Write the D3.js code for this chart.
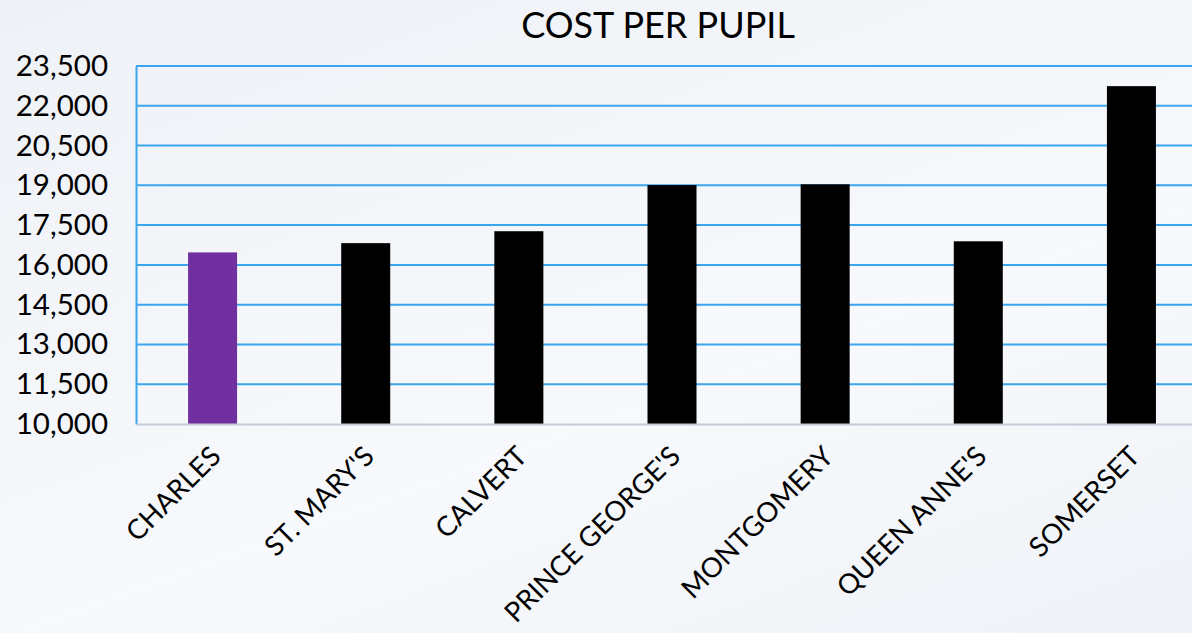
<!DOCTYPE html>
<html>
<head>
<meta charset="utf-8">
<script src="https://cdn.jsdelivr.net/npm/d3@7"></script>
<style>
  html, body { margin: 0; padding: 0; overflow: hidden; }
  body { width: 1192px; height: 633px; background: linear-gradient(160deg, #eef1f6 0%, #f7f9fc 60%, #eff2f7 100%); }
  svg { display: block; font-family: Lato, "Open Sans", sans-serif; }
</style>
</head>
<body>
<div class="container"></div>
<script>
// chart data
const counties = ["CHARLES", "ST. MARY'S", "CALVERT", "PRINCE GEORGE'S", "MONTGOMERY", "QUEEN ANNE'S", "SOMERSET"];
const costs = [16470, 16820, 17270, 19010, 19040, 16890, 22740];
const barColors = ["#7030a0", "#000", "#000", "#000", "#000", "#000", "#000"];
const yTicks = [10000, 11500, 13000, 14500, 16000, 17500, 19000, 20500, 22000, 23500];

const width = 1192;
const height = 633;
const margin = { top: 66, right: -16, bottom: 209, left: 136 };

const svg = d3.select(".container")
  .append("svg")
  .attr("width", width)
  .attr("height", height);

svg.append("text")
  .attr("x", 658)
  .attr("y", 38)
  .attr("text-anchor", "middle")
  .attr("font-size", 36)
  .attr("fill", "#000")
  .text("COST PER PUPIL");

const xScale = d3.scaleBand()
  .domain(counties)
  .range([margin.left, width - margin.right])
  .paddingInner(0.68)
  .paddingOuter(0.34);

const yScale = d3.scaleLinear()
  .domain([10000, 23500])
  .range([height - margin.bottom, margin.top]);

// horizontal grid lines
svg.append("g")
  .selectAll("line")
  .data(yTicks.slice(1))
  .join("line")
  .attr("x1", margin.left)
  .attr("x2", width)
  .attr("y1", d => yScale(d))
  .attr("y2", d => yScale(d))
  .attr("stroke", "#3ba5ee")
  .attr("stroke-width", 2);

// y axis
const yAxis = svg.append("g")
  .attr("transform", `translate(${margin.left},0)`)
  .call(d3.axisLeft(yScale).tickValues(yTicks).tickFormat(d3.format(",")).tickSize(0).tickPadding(28));
yAxis.select(".domain").attr("stroke", "#3ba5ee").attr("stroke-width", 2);
yAxis.selectAll("text").attr("font-size", 29.5).attr("fill", "#000").attr("font-family", "Lato, sans-serif");

// bars
svg.append("g")
  .selectAll("rect")
  .data(costs)
  .join("rect")
  .attr("x", (d, i) => xScale(counties[i]))
  .attr("y", d => yScale(d))
  .attr("width", xScale.bandwidth())
  .attr("height", d => yScale(10000) - yScale(d))
  .attr("fill", (d, i) => barColors[i]);

// x axis
const xAxis = svg.append("g")
  .attr("transform", `translate(0,${yScale(10000)})`)
  .call(d3.axisBottom(xScale).tickSize(0).tickPadding(0));
xAxis.select(".domain").attr("stroke", "#c3cbd6").attr("stroke-width", 2);
xAxis.selectAll(".tick text")
  .attr("font-size", 27.5)
  .attr("fill", "#000")
  .attr("font-family", "Lato, sans-serif")
  .attr("text-anchor", "end")
  .attr("dy", 0)
  .attr("transform", "translate(10,34) rotate(-45)");
</script>
</body>
</html>
